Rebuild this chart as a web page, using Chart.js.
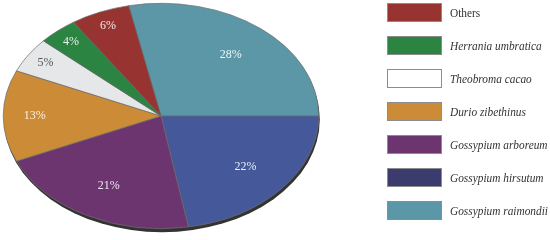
<!DOCTYPE html>
<html>
<head>
<meta charset="utf-8">
<script src="https://cdn.jsdelivr.net/npm/chart.js@4.4.0/dist/chart.umd.min.js"></script>
<style>
  html, body { margin: 0; padding: 0; background: #fff; }
  #wrap { width: 550px; height: 240px; }
</style>
</head>
<body>
<div id="wrap"><canvas id="pieChart"></canvas></div>
<script>
// legend order, top to bottom
const species = ["Others", "Herrania umbratica", "Theobroma cacao", "Durio zibethinus",
                 "Gossypium arboreum", "Gossypium hirsutum", "Gossypium raimondii"];
const shares = [6, 4, 5, 13, 21, 22, 28]; // percent
const italicName = [false, true, true, true, true, true, true];

const sliceColors = ["#973432", "#2b8442", "#e6e7e9", "#cc8b36", "#6d3570", "#45599a", "#5b97a6"];
const boxColors   = ["#973432", "#2b8442", "#ffffff", "#cc8b36", "#6d3570", "#3b3b6d", "#5b97a6"];
const labelColors = ["#f5e8e8", "#eaf3ec", "#555555", "#fbf1e4", "#efe6f0", "#e9ecf6", "#eef6f8"];
const SX = 1.4; // horizontal stretch to get the flat ellipse look

// the pie goes clockwise from raimondii, i.e. reverse of the legend
const order = species.map((_, i) => i).reverse();
const total = shares.reduce((a, b) => a + b, 0);
const startRot = 90 - shares[order[0]] / total * 360;

const ellipsePie = {
  id: "ellipsePie",
  beforeDatasetsDraw(chart) {
    const { x, y, outerRadius } = chart.getDatasetMeta(0).data[0];
    const ctx = chart.ctx;
    ctx.save();
    // dark rim under the pie
    ctx.fillStyle = "#333333";
    ctx.beginPath();
    ctx.ellipse(x + 1, y + 3.5, outerRadius * SX, outerRadius, 0, 0, Math.PI * 2);
    ctx.fill();
    ctx.translate(x, y);
    ctx.scale(SX, 1);
    ctx.translate(-x, -y);
  },
  afterDatasetsDraw(chart) {
    const ctx = chart.ctx;
    ctx.restore();
    // percentage labels
    ctx.save();
    ctx.font = "12px 'Liberation Serif'";
    ctx.textAlign = "center";
    ctx.textBaseline = "middle";
    chart.getDatasetMeta(0).data.forEach((arc, k) => {
      const i = order[k];
      const v = shares[i];
      const f = v >= 20 ? 0.7 : v >= 10 ? 0.8 : 0.87;
      const mid = (arc.startAngle + arc.endAngle) / 2;
      const lx = arc.x + Math.cos(mid) * arc.outerRadius * f * SX;
      const ly = arc.y + Math.sin(mid) * arc.outerRadius * f;
      ctx.fillStyle = labelColors[i];
      ctx.fillText(v + "%", lx, ly);
    });
    ctx.restore();
  },
  afterDraw(chart) {
    // legend on the right
    const ctx = chart.ctx;
    species.forEach((name, i) => {
      const y = 3 + i * 33;
      ctx.save();
      ctx.fillStyle = boxColors[i];
      ctx.fillRect(387, y, 55, 19);
      ctx.strokeStyle = "#8c8c8c";
      ctx.lineWidth = 1;
      ctx.strokeRect(387.5, y + 0.5, 54, 18);
      // names look narrow in the original, squeeze them a bit
      ctx.translate(450, y + 10.5);
      ctx.scale(0.84, 1);
      ctx.font = (italicName[i] ? "italic " : "") + "13.5px 'Liberation Serif'";
      ctx.fillStyle = "#333333";
      ctx.textBaseline = "middle";
      ctx.fillText(name, 0, 0);
      ctx.restore();
    });
  }
};

new Chart(document.getElementById("pieChart"), {
  type: "pie",
  data: {
    labels: order.map(i => species[i]),
    datasets: [{
      data: order.map(i => shares[i]),
      backgroundColor: order.map(i => sliceColors[i]),
      borderColor: "#6e6e6e",
      borderWidth: 0.6,
      clip: false
    }]
  },
  options: {
    responsive: true,
    maintainAspectRatio: false,
    animation: false,
    rotation: startRot,
    layout: { padding: { left: 3, right: 231, top: 3, bottom: 11 } },
    plugins: {
      legend: { display: false },
      tooltip: { enabled: false }
    }
  },
  plugins: [ellipsePie]
});
</script>
</body>
</html>
